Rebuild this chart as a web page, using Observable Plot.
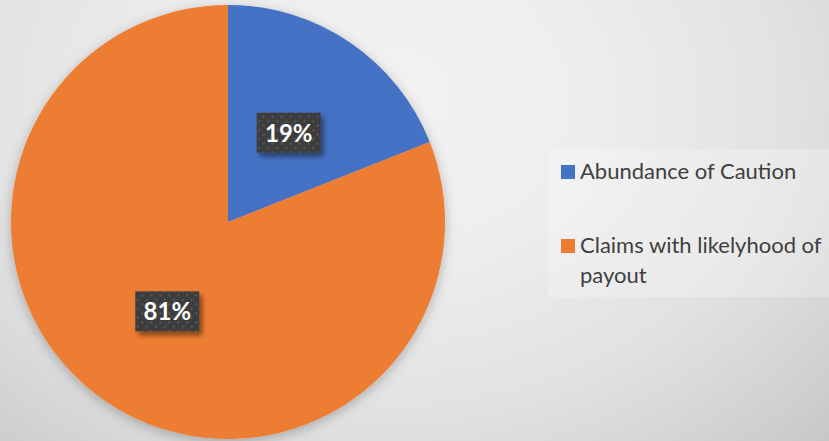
<!DOCTYPE html>
<html>
<head>
<meta charset="utf-8">
<script src="https://cdn.jsdelivr.net/npm/d3@7"></script>
<script src="https://cdn.jsdelivr.net/npm/@observablehq/plot@0.6"></script>
<style>
  html, body { margin: 0; padding: 0; background: #dcdcdc; }
  #chart svg { display: block; }
</style>
</head>
<body>
<div id="chart"></div>
<script>
// ---- data ----
const categories = ["Abundance of Caution", "Claims with likelyhood of payout"];
const shares = [19, 81];
const colors = ["#4472C4", "#ED7D31"];
const legendLines = [["Abundance of Caution"], ["Claims with likelyhood of", "payout"]];

const rows = categories.map((c, i) => ({category: c, share: shares[i], lines: legendLines[i]}));

// ---- layout ----
const W = 829, H = 441;
const CX = 228, CY = 222, R = 217, LABEL_R = 108;

function defsMark() {
  const defs = d3.create("svg:defs");
  const bg = defs.append("radialGradient").attr("id", "bgGrad")
    .attr("gradientUnits", "userSpaceOnUse")
    .attr("cx", 380).attr("cy", 100).attr("r", 520)
    .attr("gradientTransform", "translate(380,100) scale(1.3,1) translate(-380,-100)");
  [[0, "#f2f2f2"], [0.3, "#eeeeee"], [0.6, "#e2e2e2"], [0.7, "#dbdbdb"], [0.86, "#cecece"], [1, "#c0c0c0"]]
    .forEach(([o, c]) => bg.append("stop").attr("offset", o).attr("stop-color", c));
  const f = defs.append("filter").attr("id", "pieShadow").attr("x", "-20%").attr("y", "-20%").attr("width", "140%").attr("height", "140%");
  f.append("feDropShadow").attr("dx", 0).attr("dy", 3).attr("stdDeviation", 6).attr("flood-color", "#000").attr("flood-opacity", 0.25);
  const f2 = defs.append("filter").attr("id", "boxShadow").attr("x", "-30%").attr("y", "-30%").attr("width", "160%").attr("height", "160%");
  f2.append("feDropShadow").attr("dx", 3).attr("dy", 4).attr("stdDeviation", 2.5).attr("flood-color", "#000").attr("flood-opacity", 0.45);
  const p = defs.append("pattern").attr("id", "dots").attr("patternUnits", "userSpaceOnUse")
    .attr("width", 9).attr("height", 9);
  p.append("rect").attr("width", 9).attr("height", 9).attr("fill", "#3e3e3e");
  p.append("rect").attr("x", 1).attr("y", 1).attr("width", 2).attr("height", 2).attr("fill", "#595959");
  p.append("rect").attr("x", 5.5).attr("y", 5.5).attr("width", 2).attr("height", 2).attr("fill", "#595959");
  return defs.node();
}

function backgroundMark() {
  return d3.create("svg:rect")
    .attr("width", W).attr("height", H)
    .attr("fill", "url(#bgGrad)").node();
}

function pieMark(index, scales) {
  const g = d3.create("svg:g").attr("transform", `translate(${CX},${CY})`);
  const arcs = d3.pie().sort(null).value(d => d.share)(rows);
  const arc = d3.arc().innerRadius(0).outerRadius(R);
  const slices = g.append("g").attr("filter", "url(#pieShadow)");
  slices.selectAll("path").data(arcs).join("path")
    .attr("d", arc)
    .attr("fill", d => scales.color(d.data.category));
  const labelArc = d3.arc().innerRadius(LABEL_R).outerRadius(LABEL_R);
  const labels = g.append("g").selectAll("g").data(arcs).join("g")
    .attr("transform", d => `translate(${labelArc.centroid(d)})`);
  labels.append("rect")
    .attr("x", -32).attr("y", -20).attr("width", 64).attr("height", 40)
    .attr("fill", "url(#dots)").attr("filter", "url(#boxShadow)");
  labels.append("text")
    .attr("text-anchor", "middle").attr("y", 9)
    .attr("fill", "#ffffff").attr("font-weight", "bold")
    .attr("font-family", "Lato, 'Open Sans', sans-serif").attr("font-size", 24)
    .text(d => d.data.share + "%");
  return g.node();
}

function legendMark(index, scales) {
  const g = d3.create("svg:g").attr("text-anchor", "start");
  g.append("rect").attr("x", 548).attr("y", 149).attr("width", W - 548).attr("height", 148)
    .attr("fill", "#ffffff").attr("fill-opacity", 0.25);
  const items = g.selectAll("g.item").data(rows).join("g").attr("class", "item")
    .attr("transform", (d, i) => `translate(561,${165 + i * 74})`);
  items.append("rect").attr("width", 14).attr("height", 14).attr("fill", d => scales.color(d.category));
  const t = items.append("text")
    .attr("text-anchor", "start")
    .attr("font-family", "Lato, 'Open Sans', sans-serif").attr("font-size", 22)
    .attr("fill", "#404040");
  t.selectAll("tspan").data(d => d.lines).join("tspan")
    .attr("x", 19).attr("y", (d, j) => 14 + j * 30).text(d => d);
  return g.node();
}

const chart = Plot.plot({
  width: W,
  height: H,
  margin: 0,
  style: {background: "transparent", overflow: "visible"},
  x: {axis: null, domain: [0, 1]},
  y: {axis: null, domain: [0, 1]},
  color: {domain: categories, range: colors},
  marks: [
    defsMark,
    backgroundMark,
    // registers the categorical colour scale used by the pie and legend
    Plot.dot(rows, {fill: "category", r: 0}),
    pieMark,
    legendMark
  ]
});
document.getElementById("chart").append(chart);
</script>
</body>
</html>
